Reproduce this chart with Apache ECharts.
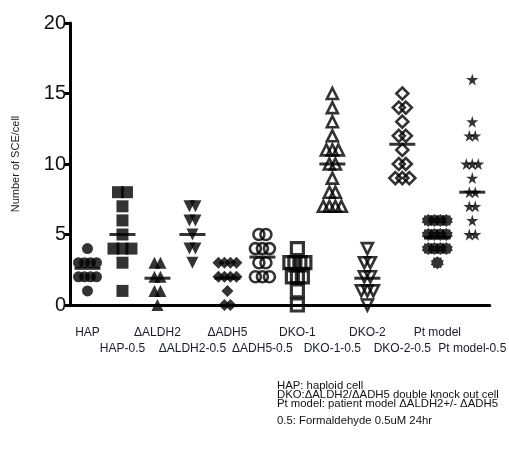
<!DOCTYPE html>
<html>
<head>
<meta charset="utf-8">
<script src="https://cdn.jsdelivr.net/npm/echarts@6/dist/echarts.min.js"></script>
<style>html,body{margin:0;padding:0;background:#fff}#c{width:509px;height:450px}</style>
</head>
<body>
<div id="c"></div>
<script>
// ---- data ----
const categories = ['HAP','HAP-0.5','\u0394ALDH2','\u0394ALDH2-0.5','\u0394ADH5','\u0394ADH5-0.5','DKO-1','DKO-1-0.5','DKO-2','DKO-2-0.5','Pt model','Pt model-0.5'];
const hap        = [4,3,3,3,3,2,2,2,2,1];
const hap05      = [8,8,7,6,5,4,4,4,3,1];
const aldh2      = [3,3,2,2,1,1,0];
const aldh205    = [7,7,6,6,5,4,4,3];
const adh5       = [3,3,3,3,2,2,2,2,1,0,0];
const adh505     = [5,5,4,4,4,3,3,2,2,2];
const dko1       = [4,3,3,3,3,2,2,2,1,0];
const dko105     = [15,14,13,12,11,11,11,10,10,9,8,8,7,7,7,7];
const dko2       = [4,3,3,2,2,1,1,1,0];
const dko205     = [15,14,14,13,12,12,11,10,10,9,9,9];
const ptModel    = [6,6,6,6,5,5,5,5,4,4,4,4,3];
const ptModel05  = [16,13,12,12,10,10,10,9,8,8,7,7,6,5,5];
const centerLines = [2.6,5,1.9,5,1.9,3.4,2.6,10,1.9,11.4,4.8,8];
const yTicks = [0,5,10,15,20];
const notes = ['HAP: haploid cell','DKO:\u0394ALDH2/\u0394ADH5 double knock out cell','Pt model: patient model \u0394ALDH2+/- \u0394ADH5','0.5: Formaldehyde 0.5uM 24hr'];

const groups = [hap,hap05,aldh2,aldh205,adh5,adh505,dko1,dko105,dko2,dko205,ptModel,ptModel05];

// ---- styles ----
const STAR = 'path://M50,0 L61,35 L98,35 L68,57 L79,91 L50,70 L21,91 L32,57 L2,35 L39,35 Z';
function burst(){
  let p = 'path://';
  const n = 10;
  for (let i = 0; i < n*2; i++) {
    const r = i % 2 ? 40 : 50;
    const a = Math.PI * i / n;
    p += (i ? 'L' : 'M') + (50 + r*Math.sin(a)).toFixed(1) + ',' + (50 - r*Math.cos(a)).toFixed(1) + ' ';
  }
  return p + 'Z';
}
const FILL = {color:'#000'};
const OPEN = {color:'rgba(0,0,0,0)', borderColor:'#000', borderWidth:2.6};
const OPEN3 = {color:'rgba(0,0,0,0)', borderColor:'#000', borderWidth:3.2};
const styles = [
  {symbol:'circle', rot:0, size:11, item:FILL, step:6},
  {symbol:'rect', rot:0, size:12, item:FILL, step:9},
  {symbol:'triangle', rot:0, size:12, item:FILL, step:6},
  {symbol:'triangle', rot:180, size:12, item:FILL, step:6},
  {symbol:'diamond', rot:0, size:12, item:FILL, step:6},
  {symbol:'circle', rot:0, size:11, item:OPEN, step:7},
  {symbol:'rect', rot:0, size:12, item:OPEN3, step:5},
  {symbol:'triangle', rot:0, size:11, item:OPEN, step:6},
  {symbol:'triangle', rot:180, size:11, item:OPEN, step:6},
  {symbol:'diamond', rot:0, size:12, item:OPEN, step:7},
  {symbol:burst(), rot:0, size:13, item:FILL, step:6},
  {symbol:STAR, rot:0, size:12, item:FILL, step:6}
];

const series = groups.map((vals, g) => {
  const s = styles[g];
  const counts = {}, seen = {};
  vals.forEach(v => counts[v] = (counts[v] || 0) + 1);
  const data = vals.map(v => {
    const k = seen[v] = (seen[v] || 0); seen[v]++;
    const off = (k - (counts[v] - 1) / 2) * s.step;
    return {value:[g, v], symbolOffset:[off, 0]};
  });
  return {
    type:'scatter', data, symbol:s.symbol, symbolRotate:s.rot, symbolSize:s.size,
    itemStyle:s.item, silent:true, z:2
  };
});
series.push({
  type:'scatter', data:centerLines.map((v,i)=>[i,v]), symbol:'rect', symbolSize:[26,3],
  itemStyle:{color:'#000'}, z:5, silent:true
});

const chart = echarts.init(document.getElementById('c'), null, {renderer:'canvas'});
const FONT = 'Liberation Sans, Arial, sans-serif';
const noteTops = [381, 389.5, 399, 415.5];
chart.setOption({
  animation:false,
  backgroundColor:'#fff',
  grid:{left:70, right:12, top:23, bottom:145, containLabel:false},
  xAxis:{
    type:'category', data:categories, boundaryGap:true,
    axisLine:{lineStyle:{color:'#000', width:3}},
    axisTick:{alignWithLabel:true, length:7, lineStyle:{color:'#000', width:3}},
    axisLabel:{interval:0, margin:20, fontSize:12, lineHeight:16, color:'#1a1a2a', fontFamily:FONT,
      formatter:(v,i)=> i % 2 ? '\n' + v : v},
    splitLine:{show:false}
  },
  yAxis:{
    type:'value', min:yTicks[0], max:yTicks[yTicks.length-1], interval:5,
    name:'Number of SCE/cell', nameLocation:'middle', nameGap:49,
    nameTextStyle:{fontSize:11, color:'#1a1a2a', fontFamily:FONT},
    axisLine:{show:true, lineStyle:{color:'#000', width:3}},
    axisTick:{show:true, length:6, lineStyle:{color:'#000', width:3}},
    axisLabel:{fontSize:20, margin:4, color:'#111', fontFamily:FONT},
    splitLine:{show:false}
  },
  graphic: notes.map((t, i) => ({
    type:'text', x:277, y:noteTops[i], scaleX:1.08,
    style:{text:t, fontSize:10.5, fill:'#111', fontFamily:FONT, textVerticalAlign:'top', verticalAlign:'top'}
  })),
  series
});
</script>
</body>
</html>
